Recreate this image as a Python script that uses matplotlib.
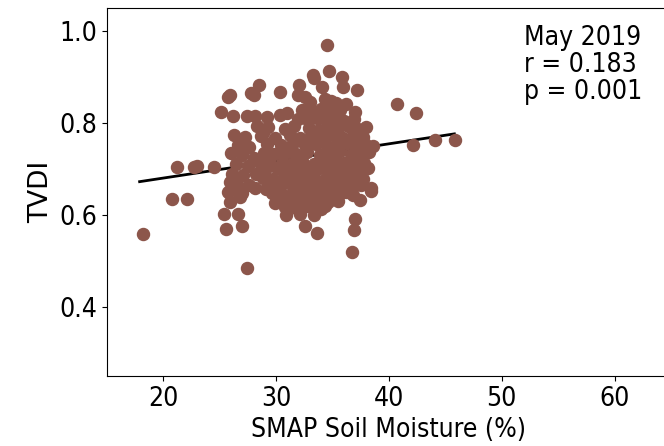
import numpy as np
import matplotlib
matplotlib.use('Agg')
import matplotlib.pyplot as plt

# SMAP soil moisture (%) vs TVDI, May 2019
# scattered points around the edges
edge_x = [18.2, 20.75, 22.07, 21.2, 22.7, 23.0, 24.5, 27.4, 25.15, 25.7, 25.9,
          28.0, 28.5, 26.2, 27.4, 28.1, 29.2, 30.3, 31.0, 30.3, 32.0, 33.3, 33.4,
          34.5, 34.7, 35.8, 35.9, 37.2, 37.0, 36.2, 34.1, 31.9, 32.6, 34.3, 34.9,
          40.75, 42.4, 42.1, 44.1, 45.9, 38.6, 36.7, 36.9, 37.0, 33.6, 32.6,
          25.6, 27.0, 25.4, 26.6, 25.9, 26.8, 25.9, 25.7, 30.9, 32.1, 33.4, 34.0,
          37.4, 38.4, 38.4, 29.9, 30.3, 29.1, 35.3, 36.2, 27.8]
edge_y = [0.558, 0.636, 0.636, 0.706, 0.706, 0.708, 0.704, 0.486, 0.825, 0.857, 0.862,
          0.861, 0.883, 0.815, 0.817, 0.816, 0.814, 0.818, 0.822, 0.869, 0.884, 0.905, 0.898,
          0.971, 0.913, 0.900, 0.880, 0.872, 0.825, 0.843, 0.880, 0.862, 0.858, 0.852, 0.848,
          0.843, 0.823, 0.752, 0.763, 0.763, 0.751, 0.520, 0.567, 0.592, 0.561, 0.576,
          0.571, 0.576, 0.603, 0.603, 0.628, 0.639, 0.672, 0.650, 0.600, 0.603, 0.600, 0.613,
          0.632, 0.660, 0.653, 0.627, 0.628, 0.657, 0.639, 0.650, 0.865]

# dense core of the cloud
core_x = [29.3, 30.8, 31.6, 32.9, 33.8, 34.6, 35.5, 36.4, 37.3, 38.0,
          28.7, 29.9, 31.2, 32.1, 33.1, 34.2, 35.0, 35.9, 36.8, 37.7,
          29.2, 30.4, 31.5, 32.6, 33.5, 34.5, 35.4, 36.3, 37.1, 37.9,
          28.9, 29.8, 30.9, 31.8, 32.7, 33.9, 34.8, 35.7, 36.6, 37.5, 38.2,
          28.5, 29.5, 30.6, 31.4, 32.3, 33.4, 34.3, 35.2, 36.0, 36.9, 37.8,
          29.0, 30.1, 31.0, 32.0, 33.0, 33.8, 34.7, 35.6, 36.5, 37.4, 38.1,
          28.8, 29.7, 30.7, 31.6, 32.5, 33.5, 34.4, 35.3, 36.2, 37.0, 37.7,
          29.3, 30.3, 31.3, 32.2, 33.1, 34.0, 34.9, 35.8, 36.7, 37.5,
          29.6, 30.6, 31.5, 32.4, 33.3, 34.2, 35.1, 35.9, 36.8,
          30.1, 31.1, 32.0, 32.9, 33.8, 34.6, 35.5,
          30.8, 31.8, 32.7, 33.5, 34.3,
          31.9, 32.8, 33.6, 34.4, 35.2, 36.0, 36.9,
          32.3, 33.2, 34.0, 34.9, 35.7,
          33.0, 34.6, 35.3]
core_y = [0.792, 0.788, 0.795, 0.790, 0.786, 0.793, 0.789, 0.794, 0.787, 0.791,
          0.772, 0.769, 0.774, 0.768, 0.773, 0.770, 0.775, 0.767, 0.772, 0.770,
          0.755, 0.752, 0.757, 0.753, 0.756, 0.751, 0.754, 0.758, 0.752, 0.755,
          0.736, 0.733, 0.738, 0.734, 0.737, 0.732, 0.736, 0.739, 0.733, 0.735, 0.737,
          0.716, 0.713, 0.718, 0.714, 0.717, 0.712, 0.715, 0.719, 0.713, 0.716, 0.714,
          0.699, 0.702, 0.697, 0.701, 0.698, 0.703, 0.700, 0.696, 0.701, 0.699, 0.702,
          0.681, 0.678, 0.683, 0.679, 0.682, 0.677, 0.680, 0.684, 0.679, 0.681, 0.678,
          0.665, 0.662, 0.667, 0.663, 0.666, 0.661, 0.664, 0.668, 0.662, 0.665,
          0.648, 0.645, 0.650, 0.646, 0.649, 0.644, 0.647, 0.651, 0.645,
          0.632, 0.629, 0.634, 0.630, 0.633, 0.628, 0.631,
          0.618, 0.615, 0.620, 0.616, 0.619,
          0.810, 0.807, 0.812, 0.808, 0.811, 0.806, 0.809,
          0.829, 0.826, 0.831, 0.827, 0.830,
          0.846, 0.843, 0.845]

# left column of points near 26-28 %
left_x = [26.3, 27.2, 26.6, 27.6, 26.0, 27.0, 28.0, 26.4, 27.5, 26.1, 27.1, 28.2,
          26.5, 27.6, 26.0, 27.0, 28.1, 28.3, 28.8]
left_y = [0.775, 0.770, 0.752, 0.748, 0.735, 0.730, 0.725, 0.712, 0.708, 0.690,
          0.688, 0.690, 0.668, 0.665, 0.655, 0.648, 0.660, 0.795, 0.780]

sm = np.array(edge_x + core_x + left_x)
tvdi = np.array(edge_y + core_y + left_y)

# regression line end points
fit_x = [17.9, 45.8]
fit_y = [0.673, 0.777]

fig = plt.figure(figsize=(6.64, 4.46), dpi=100)
ax = fig.add_axes([0.161, 0.157, 0.8495, 0.824])
ax.plot(fit_x, fit_y, color='black', linewidth=2, zorder=1)
ax.scatter(sm, tvdi, s=75, color='#8c564b', zorder=2)
ax.set_xlim(15, 65)
ax.set_ylim(0.25, 1.05)
ax.set_xticks([20, 30, 40, 50, 60])
ax.set_yticks([0.4, 0.6, 0.8, 1.0])
ax.tick_params(labelsize=19)
for lab in ax.get_xticklabels() + ax.get_yticklabels():
    lab.set_fontstretch('condensed')
ax.set_xlabel('SMAP Soil Moisture (%)', fontsize=19, fontstretch='condensed')
ax.set_ylabel('TVDI', fontsize=19)
ax.text(0.740, 0.955, 'May 2019\nr = 0.183\np = 0.001', transform=ax.transAxes,
        fontsize=19, fontstretch='condensed', va='top', ha='left', linespacing=1.05)
fig.savefig('out.png', dpi=100)
